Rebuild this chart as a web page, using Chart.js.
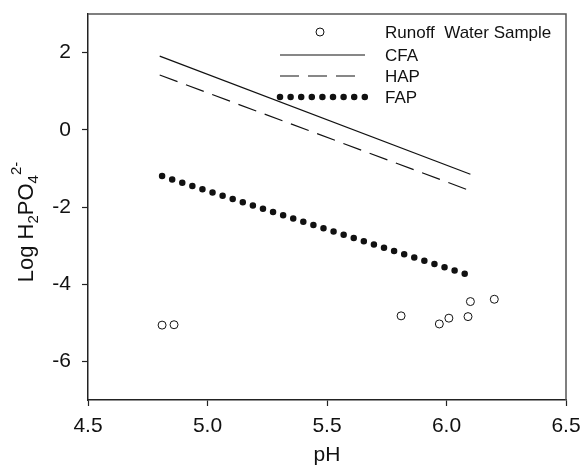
<!DOCTYPE html>
<html>
<head>
<meta charset="utf-8">
<script src="https://cdn.jsdelivr.net/npm/chart.js@4.4.1/dist/chart.umd.min.js"></script>
<style>
  html, body { margin: 0; padding: 0; background: #fff; }
  #wrap { width: 583px; height: 468px; }
</style>
</head>
<body>
<div id="wrap"><canvas id="phChart" width="583" height="468"></canvas></div>
<script>
// data
const runoffPH = [4.81, 4.86, 5.81, 5.97, 6.01, 6.09, 6.10, 6.20];
const runoffLog = [-5.06, -5.05, -4.82, -5.03, -4.88, -4.84, -4.45, -4.39];
const cfaPH = [4.8, 6.1];
const cfaLog = [1.91, -1.15];
const hapPH = [4.8, 6.1];
const hapLog = [1.42, -1.58];
const fapPH = [4.81, 6.08];
const fapLog = [-1.2, -3.74];
const xTicks = [4.5, 5.0, 5.5, 6.0, 6.5];
const yTicks = [-6, -4, -2, 0, 2];

const FONT = "'Liberation Sans', Arial, sans-serif";
const toPoints = (xs, ys) => xs.map((x, i) => ({ x, y: ys[i] }));

// y title with sub/superscripts, legend and frame drawn by hand
const extras = {
  id: "extras",
  afterDraw(chart) {
    const c = chart.ctx;
    const a = chart.chartArea;

    // frame top + right
    c.save();
    c.strokeStyle = "#555";
    c.lineWidth = 1.5;
    c.beginPath();
    c.moveTo(a.left, a.top);
    c.lineTo(a.right, a.top);
    c.lineTo(a.right, a.bottom);
    c.stroke();
    c.restore();

    // y axis title: Log H2PO4 2-
    const parts = [
      { t: "Log H", size: 22, dy: 0 },
      { t: "2", size: 15, dy: 5 },
      { t: "PO", size: 22, dy: 0 },
      { t: "4", size: 15, dy: 5 },
      { t: "2-", size: 15, dy: -12 },
    ];
    c.save();
    c.fillStyle = "#111";
    c.textBaseline = "alphabetic";
    let total = 0;
    parts.forEach(p => {
      c.font = p.size + "px " + FONT;
      p.w = c.measureText(p.t).width;
      total += p.w;
    });
    c.translate(33, 222);
    c.rotate(-Math.PI / 2);
    let x = -total / 2;
    parts.forEach(p => {
      c.font = p.size + "px " + FONT;
      c.fillText(p.t, x, p.dy);
      x += p.w;
    });
    c.restore();

    // legend
    const ds = chart.data.datasets;
    const rows = [32, 55, 76, 97];
    c.save();
    c.font = "17px " + FONT;
    c.fillStyle = "#111";
    c.textBaseline = "middle";
    ds.forEach((d, i) => {
      const y = rows[i];
      c.fillText(d.label, 385, y + 1);
      c.strokeStyle = d.borderColor;
      if (d.showLine === false) {
        c.lineWidth = d.borderWidth;
        c.beginPath();
        c.arc(320, y, d.pointRadius, 0, Math.PI * 2);
        c.stroke();
      } else {
        c.lineWidth = d.borderWidth;
        c.lineCap = d.borderCapStyle || "butt";
        c.setLineDash(d.borderDash || []);
        c.beginPath();
        c.moveTo(280, y);
        c.lineTo(d.legendEnd || 365, y);
        c.stroke();
        c.setLineDash([]);
      }
    });
    c.restore();
  },
};

const ctx = document.getElementById("phChart").getContext("2d");
const phChart = new Chart(ctx, {
  type: "scatter",
  data: {
    datasets: [
      {
        label: "Runoff  Water Sample",
        data: toPoints(runoffPH, runoffLog),
        showLine: false,
        pointRadius: 4,
        pointBorderWidth: 1,
        borderWidth: 1,
        pointBackgroundColor: "#fff",
        borderColor: "#111",
        pointBorderColor: "#111",
      },
      {
        label: "CFA",
        data: toPoints(cfaPH, cfaLog),
        showLine: true,
        pointRadius: 0,
        borderWidth: 1.2,
        borderColor: "#111",
      },
      {
        label: "HAP",
        data: toPoints(hapPH, hapLog),
        showLine: true,
        pointRadius: 0,
        borderWidth: 1.2,
        borderDash: [19, 9],
        borderColor: "#111",
        legendEnd: 357,
      },
      {
        label: "FAP",
        data: toPoints(fapPH, fapLog),
        showLine: true,
        pointRadius: 0,
        borderWidth: 6.5,
        borderDash: [0, 10.6],
        borderCapStyle: "round",
        borderColor: "#111",
      },
    ],
  },
  options: {
    responsive: false,
    animation: false,
    layout: { padding: { top: 14, right: 17, left: 0, bottom: 0 } },
    plugins: { legend: { display: false }, tooltip: { enabled: false } },
    scales: {
      x: {
        type: "linear",
        min: 4.5,
        max: 6.5,
        afterFit: s => { s.height = 68; s.paddingLeft = 0; s.paddingRight = 0; },
        afterBuildTicks: s => { s.ticks = xTicks.map(v => ({ value: v })); },
        grid: { drawOnChartArea: false, tickLength: 6, tickColor: "#222", tickWidth: 1.2 },
        border: { color: "#222", width: 1.5 },
        ticks: {
          color: "#111",
          padding: 8,
          maxRotation: 0,
          font: { family: FONT, size: 21 },
          callback: v => v.toFixed(1),
        },
        title: {
          display: true,
          text: "pH",
          color: "#111",
          padding: { top: 0, bottom: 0 },
          font: { family: FONT, size: 21 },
        },
      },
      y: {
        min: -7,
        max: 3,
        afterFit: s => { s.width = 88; s.paddingTop = 0; s.paddingBottom = 0; },
        afterBuildTicks: s => { s.ticks = yTicks.map(v => ({ value: v })); },
        grid: { drawOnChartArea: false, tickLength: 6, tickColor: "#222", tickWidth: 1.2 },
        border: { color: "#222", width: 1.5 },
        ticks: {
          color: "#111",
          padding: 11,
          font: { family: FONT, size: 21 },
          callback: v => String(v),
        },
      },
    },
  },
  plugins: [extras],
});
</script>
</body>
</html>
